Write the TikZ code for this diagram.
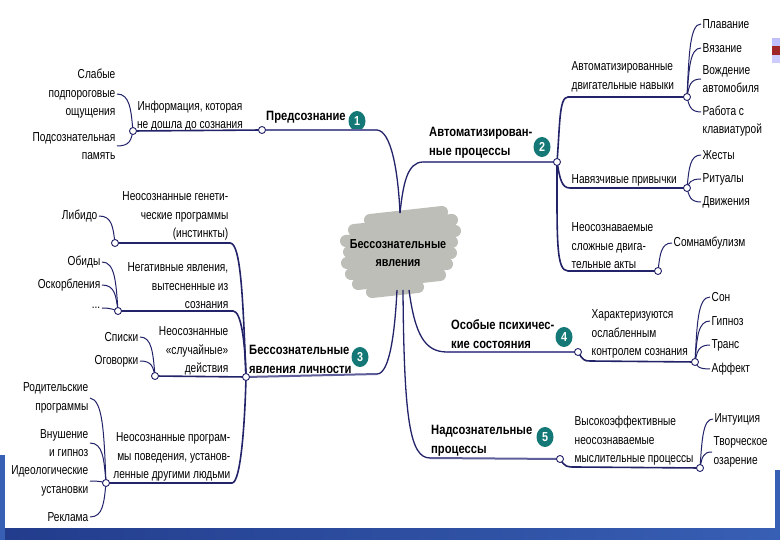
\documentclass[tikz,border=0pt]{standalone}
\usepackage{fontspec}
\setmainfont[FakeStretch=0.78]{Liberation Sans}
\newfontfamily\bff[FakeStretch=0.83]{Liberation Sans}
\usetikzlibrary{shapes.geometric}
\definecolor{navy}{RGB}{35,35,105}
\definecolor{mainc}{RGB}{95,95,155}
\definecolor{teal1}{RGB}{20,120,118}
\definecolor{blobg}{RGB}{190,190,184}
\definecolor{bandb}{RGB}{55,95,180}
\definecolor{bandd}{RGB}{35,60,140}
\tikzset{
 lf/.style={font=\fontsize{13}{18.5}\selectfont, inner sep=1.5pt},
 lfl/.style={lf, anchor=east, align=right},
 lfr/.style={lf, anchor=west, align=left},
 mainlbl/.style={font=\bff\bfseries\fontsize{13.5}{19}\selectfont, anchor=west, align=left, inner sep=0pt},
 badge/.style={ellipse, fill=teal1, text=white, font=\bff\bfseries\fontsize{13}{14}\selectfont, minimum width=17pt, minimum height=20pt, inner sep=0pt},
 junction/.style={circle, draw=navy, fill=white, line width=0.9pt, minimum size=7pt, inner sep=0pt},
 mline/.style={draw=mainc, line width=2pt},
 cline/.style={draw=navy, line width=1.3pt},
 sline/.style={draw=navy, line width=1.6pt},
 leafl/.style={draw=navy, line width=1pt},
 blobs/.style={draw=blobg, line width=12pt, line cap=round}
}
\begin{document}
\begin{tikzpicture}[x=1pt,y=-1pt]
\useasboundingbox (0,0) rectangle (780,540);
\fill[white] (0,0) rectangle (780,540);
% slide background
\shade[left color=bandd, right color=bandb] (0,528) rectangle (780,540);
\fill[bandb] (0,455) rectangle (5,540);
\fill[bandb] (775,470) rectangle (780,540);
\fill[blue!25] (772,38) rectangle (780,46);
\fill[red!55!black!85] (772,46) rectangle (780,55);
\fill[blue!20] (772,55) rectangle (780,63);
% central blob
\draw[blobs] (370,220) -- (442,212);
\draw[blobs] (354,230) -- (452,220);
\draw[blobs] (346,241) -- (455,231);
\draw[blobs] (349,252) -- (452,242);
\draw[blobs] (347,263) -- (451,253);
\draw[blobs] (351,274) -- (447,264);
\draw[blobs] (358,284) -- (440,275);
\draw[blobs] (372,292) -- (418,287);
\node[font=\bff\bfseries\fontsize{13}{18}\selectfont, align=center] (C) at (398,253) {Бессознательные\\явления};
\coordinate (Ctop) at (400,213);
\coordinate (Cb3) at (397,290);
\coordinate (Cb5) at (403,290);
\coordinate (Cb4) at (409,290);
% junctions
\coordinate (c1) at (262,130);
\coordinate (c1a) at (133,131);
\coordinate (c2) at (557,162);
\coordinate (c2a) at (687,97);
\coordinate (c2b) at (687,188);
\coordinate (c2c) at (658,271);
\coordinate (c3) at (246,377);
\coordinate (c3a) at (115,243);
\coordinate (c3b) at (118,311);
\coordinate (c3c) at (155,376);
\coordinate (c3d) at (106,483);
\coordinate (c4) at (578,352);
\coordinate (c4a) at (695,362);
\coordinate (c5) at (560,459);
\coordinate (c5a) at (700,468);
% bends
\coordinate (b1) at (377,130);
\coordinate (b2) at (423,162);
\coordinate (b2a) at (568,97);
\coordinate (b2b) at (570,188);
\coordinate (b2c) at (568,271);
\coordinate (b3) at (377,374);
\coordinate (b3a) at (230,243);
\coordinate (b3b) at (233,311);
\coordinate (b3d) at (232,483);
\coordinate (b4) at (447,352);
\coordinate (b4a) at (590,361);
\coordinate (b5) at (430,458);
\coordinate (b5a) at (575,467);
% main labels
\node[mainlbl] (m1) at (266,117) {Предсознание};
\node[mainlbl] (m2) at (429,143) {Автоматизирован-\\ные процессы};
\node[mainlbl] (m3) at (249,359) {Бессознательные\\явления личности};
\node[mainlbl] (m4) at (451,334) {Особые психичес-\\кие состояния};
\node[mainlbl] (m5) at (431,441) {Надсознательные\\процессы};
\node[badge] (n1) at (357,121) {1};
\node[badge] (n2) at (542,147) {2};
\node[badge] (n3) at (360,357) {3};
\node[badge] (n4) at (564,337) {4};
\node[badge] (n5) at (545,437) {5};
% sub labels
\node[lf, align=center] (s1) at (190,116) {Информация, которая\\не дошла до сознания};
\node[lfl] (s3a) at (230,216) {Неосознанные генети-\\ческие программы\\(инстинкты)};
\node[lfl] (s3b) at (230,286) {Негативные явления,\\вытесненные из\\сознания};
\node[lfl] (s3c) at (230,351) {Неосознанные\\«случайные»\\действия};
\node[lfl] (s3d) at (232,457) {Неосознанные програм-\\мы поведения, установ-\\ленные другими людьми};
\node[lfr] (s2a) at (570,77) {Автоматизированные\\двигательные навыки};
\node[lfr] (s2b) at (570,180) {Навязчивые привычки};
\node[lfr] (s2c) at (570,246) {Неосознаваемые\\сложные двига-\\тельные акты};
\node[lfr] (s4) at (590,334) {Характеризуются\\ослабленным\\контролем сознания};
\node[lfr] (s5) at (573,441) {Высокоэффективные\\неосознаваемые\\мыслительные процессы};
% left leaves
\node[lfl] (l1a) at (117,94) {Слабые\\подпороговые\\ощущения};
\node[lfl] (l1b) at (117,146) {Подсознательная\\память};
\node[lfl] (l3a) at (99,216) {Либидо};
\node[lfl] (l3b1) at (102,262) {Обиды};
\node[lfl] (l3b2) at (102,285) {Оскорбления};
\node[lfl] (l3b3) at (102,308) {...};
\node[lfl] (l3c1) at (140,337) {Списки};
\node[lfl] (l3c2) at (140,361) {Оговорки};
\node[lfl] (l3d1) at (90,398) {Родительские\\программы};
\node[lfl] (l3d2) at (90,443) {Внушение\\и гипноз};
\node[lfl] (l3d3) at (90,481) {Идеологические\\установки};
\node[lfl] (l3d4) at (90,517) {Реклама};
% right leaves
\node[lfr] (r1) at (701,24) {Плавание};
\node[lfr] (r2) at (701,48) {Вязание};
\node[lfr] (r3) at (701,79) {Вождение\\автомобиля};
\node[lfr] (r4) at (701,121) {Работа с\\клавиатурой};
\node[lfr] (r5) at (701,155) {Жесты};
\node[lfr] (r6) at (701,179) {Ритуалы};
\node[lfr] (r7) at (701,202) {Движения};
\node[lfr] (r8) at (672,243) {Сомнамбулизм};
\node[lfr] (r9) at (710,297) {Сон};
\node[lfr] (r10) at (710,321) {Гипноз};
\node[lfr] (r11) at (710,345) {Транс};
\node[lfr] (r12) at (710,369) {Аффект};
\node[lfr] (r13) at (713,419) {Интуиция};
\node[lfr] (r14) at (712,452) {Творческое\\озарение};
% branch connectors
\draw[mline] (c1) -- (b1);
\draw[cline] (b1) .. controls (391,131) and (398,170) .. (Ctop);
\draw[cline] (Ctop) .. controls (403,185) and (407,162) .. (b2);
\draw[mline] (b2) -- (c2);
\draw[sline] (c2) .. controls (560,125) and (559,97) .. (b2a) -- (c2a);
\draw[sline] (c2) .. controls (560,180) and (562,188) .. (b2b) -- (c2b);
\draw[sline] (c2) .. controls (557,240) and (556,271) .. (b2c) -- (c2c);
\draw[cline] (Cb3) .. controls (395,330) and (390,374) .. (b3);
\draw[mline] (b3) -- (c3);
\draw[sline] (c3a) -- (b3a) .. controls (241,243) and (243,300) .. (c3);
\draw[sline] (c3b) -- (b3b) .. controls (241,311) and (245,340) .. (c3);
\draw[sline] (c3c) -- (c3);
\draw[sline] (c3d) -- (b3d) .. controls (241,483) and (245,420) .. (c3);
\draw[sline] (c1a) -- (c1);
\draw[cline] (Cb4) .. controls (415,335) and (425,352) .. (b4);
\draw[mline] (b4) -- (c4);
\draw[sline] (c4) .. controls (583,360) and (584,361) .. (b4a) -- (c4a);
\draw[cline] (Cb5) .. controls (404,420) and (410,458) .. (b5);
\draw[mline] (b5) -- (c5);
\draw[sline] (c5) .. controls (565,467) and (567,467) .. (b5a) -- (c5a);
% left leaf connectors
\draw[leafl] (l1a.east) .. controls (130,94) and (131,110) .. (c1a);
\draw[leafl] (l1b.east) .. controls (130,146) and (131,140) .. (c1a);
\draw[leafl] (l3a.east) .. controls (112,216) and (113,227) .. (c3a);
\draw[leafl] (l3b1.east) .. controls (115,262) and (116,282) .. (c3b);
\draw[leafl] (l3b2.east) .. controls (115,285) and (116,296) .. (c3b);
\draw[leafl] (l3b3.east) .. controls (112,308) and (114,310) .. (c3b);
\draw[leafl] (l3c1.east) .. controls (152,337) and (153,353) .. (c3c);
\draw[leafl] (l3c2.east) .. controls (152,361) and (153,367) .. (c3c);
\draw[leafl] (l3d1.east) .. controls (103,400) and (104,433) .. (c3d);
\draw[leafl] (l3d2.east) .. controls (103,443) and (104,459) .. (c3d);
\draw[leafl] (l3d3.east) .. controls (100,481) and (103,482) .. (c3d);
\draw[leafl] (l3d4.east) .. controls (103,517) and (104,503) .. (c3d);
% right leaf connectors
\draw[leafl] (c2a) .. controls (689,53) and (690,24) .. (r1.west);
\draw[leafl] (c2a) .. controls (689,68) and (690,48) .. (r2.west);
\draw[leafl] (c2a) .. controls (689,86) and (690,79) .. (r3.west);
\draw[leafl] (c2a) .. controls (689,105) and (690,112) .. ([yshift=9pt]r4.west);
\draw[leafl] (c2b) .. controls (689,168) and (690,155) .. (r5.west);
\draw[leafl] (c2b) .. controls (689,183) and (690,179) .. (r6.west);
\draw[leafl] (c2b) .. controls (689,196) and (690,202) .. (r7.west);
\draw[leafl] (c2c) .. controls (660,254) and (661,243) .. (r8.west);
\draw[leafl] (c4a) .. controls (697,323) and (698,297) .. (r9.west);
\draw[leafl] (c4a) .. controls (697,337) and (698,321) .. (r10.west);
\draw[leafl] (c4a) .. controls (697,352) and (698,345) .. (r11.west);
\draw[leafl] (c4a) .. controls (697,366) and (698,369) .. (r12.west);
\draw[leafl] (c5a) .. controls (702,439) and (703,419) .. (r13.west);
\draw[leafl] (c5a) .. controls (702,457) and (703,452) .. (r14.west);
% junction circles
\foreach \j in {c1,c1a,c2,c2a,c2b,c2c,c3,c3a,c3b,c3c,c3d,c4,c4a,c5,c5a}
  \node[junction] (j\j) at (\j) {};
\end{tikzpicture}
\end{document}
